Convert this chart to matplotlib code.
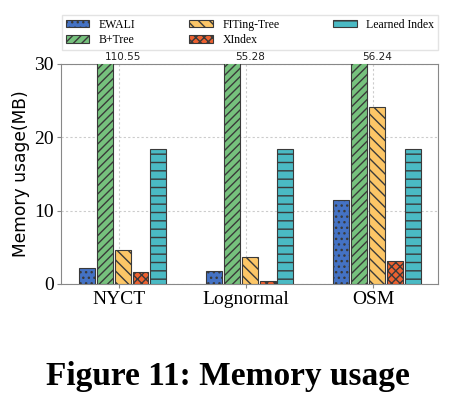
import matplotlib
matplotlib.use("Agg")
import matplotlib.pyplot as plt
import numpy as np

plt.rcParams['hatch.linewidth'] = 1.0

categories = ["NYCT", "Lognormal", "OSM"]
series_names = ["EWALI", "B+Tree", "FITing-Tree", "XIndex", "Learned Index"]
ewali = [2.2, 1.8, 11.5]
bptree = [110.55, 55.28, 56.24]
fiting = [4.6, 3.7, 24.1]
xindex = [1.7, 0.35, 3.1]
learned = [18.4, 18.4, 18.4]
bptree_labels = ["110.55", "55.28", "56.24"]
yticks = [0, 10, 20, 30]

colors = ["#4472C4", "#76C17D", "#FCC667", "#EE6130", "#4ABAC4"]
hatches = ["...", "////", "\\\\\\", "xxxx", "--"]
series = [ewali, bptree, fiting, xindex, learned]

fig = plt.figure(figsize=(4.6, 3.94), dpi=100)
ax = fig.add_axes([61/460, 1-284/394, 377/460, 220/394])

x = np.arange(len(categories))
step = 0.14
w = 0.125
for i, (name, vals) in enumerate(zip(series_names, series)):
    ax.bar(x - 0.25 + i * step, vals, width=w, color=colors[i], hatch=hatches[i],
           edgecolor="#3a3a3a", linewidth=0.8, label=name, zorder=3)

for xi, lab in zip(x, bptree_labels):
    ax.text(xi - 0.25 + 2 * step, 30.25, lab, ha="center", va="bottom", fontsize=7.5,
            family="DejaVu Sans", color="#222222")

ax.set_ylim(0, 30)
ax.set_xlim(-0.455, 2.51)
ax.set_yticks(yticks)
ax.set_xticks(x)
ax.set_xticklabels(categories, family="Liberation Serif", fontsize=14)
for t in ax.get_yticklabels():
    t.set_family("Liberation Serif")
    t.set_fontsize(14)
ax.set_ylabel("Memory usage(MB)", family="DejaVu Sans", fontsize=12.3, labelpad=3)
ax.grid(True, linestyle=(0, (2, 2)), color="#cccccc", linewidth=0.8, zorder=0)
for s in ax.spines.values():
    s.set_color("#888888")
ax.tick_params(length=3, color="#888888", pad=2)

leg = fig.legend(loc="upper left", ncol=3,
                 prop={"family": "Liberation Serif", "size": 8.5},
                 frameon=True, fancybox=False, edgecolor="#dddddd",
                 handlelength=2.0, handleheight=0.6, handletextpad=0.8,
                 labelspacing=0.3, borderpad=0.3, borderaxespad=0,
                 mode="expand",
                 bbox_to_anchor=(62/460, 1-50/394, 376/460, 35/394),
                 bbox_transform=fig.transFigure)

fig.text(228/460, 1-385/394, "Figure 11: Memory usage", ha="center", va="baseline",
         family="Liberation Serif", fontweight="bold", fontsize=24)

fig.savefig("out.png", dpi=100)
